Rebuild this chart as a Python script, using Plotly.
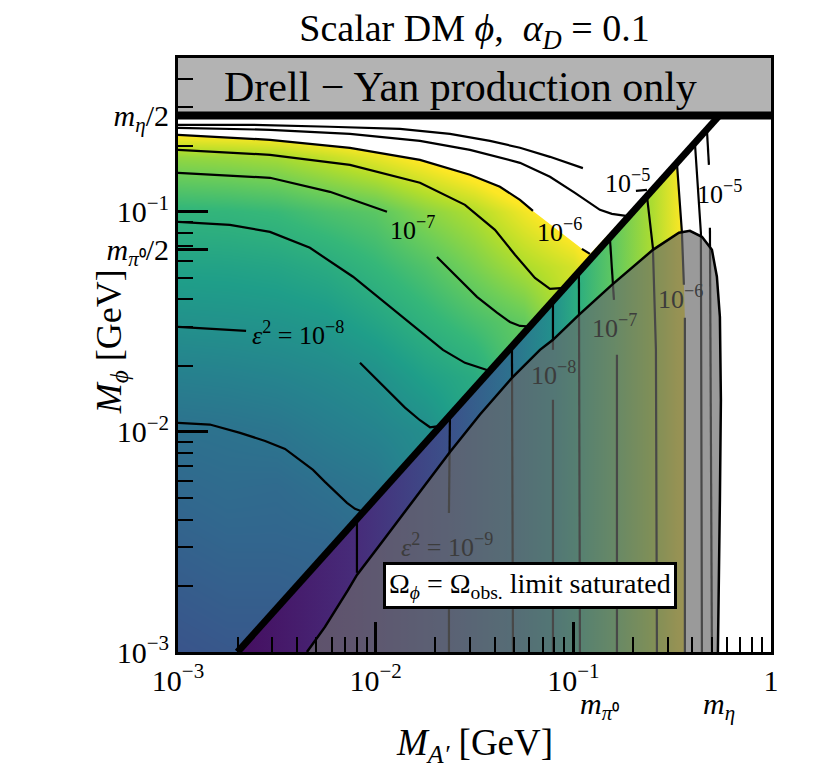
import math
import numpy as np
import plotly.graph_objects as go
from plotly.colors import sample_colorscale

FONT = "Liberation Serif"

# ---------------- physics constants (GeV) ----------------
M_ETA = 0.548
M_PI0 = 0.135
MPHI_TOP = 0.5

# ---------------- axes ----------------
x_major = [1e-3, 1e-2, 1e-1, 1.0]
x_major_text = ["10<sup>−3</sup>", "10<sup>−2</sup>", "10<sup>−1</sup>", "1"]
x_minor = [0.002, 0.003, 0.004, 0.005, 0.006, 0.007, 0.008, 0.009,
           0.02, 0.03, 0.04, 0.05, 0.06, 0.07, 0.08, 0.09,
           0.2, 0.3, 0.4, 0.5, 0.6, 0.7, 0.8, 0.9]
y_major = [1e-3, 1e-2, 1e-1, M_PI0 / 2, M_ETA / 2]
y_major_text = ["10<sup>−3</sup>", "10<sup>−2</sup>", "10<sup>−1</sup>",
                "<i>m</i><sub><i>π</i>⁰</sub>/2", "<i>m</i><sub><i>η</i></sub>/2"]
y_minor = [0.002, 0.003, 0.004, 0.005, 0.006, 0.007, 0.008, 0.009,
           0.02, 0.03, 0.04, 0.05, 0.06, 0.07, 0.08, 0.09,
           0.2, 0.3, 0.4]

# ---------------- colour field: log10(eps^2) above the M_A' = 2 M_phi line ----------------
EPS_MIN, EPS_MAX = -10.0, -6.0
grid_mA = [0.001, 0.00178, 0.00316, 0.00562, 0.01, 0.0178, 0.0316, 0.0562, 0.1, 0.178, 0.316, 0.562]
grid_mphi = [0.001, 0.00178, 0.00316, 0.00562, 0.01, 0.0178, 0.0316, 0.0562, 0.1, 0.178, 0.316]
eps2_grid = [
    [-8.95, -8.90, -8.90, -8.85, -8.65, -8.25, -7.70, -7.00, -6.30, -5.5, -5.0, -5.0],
    [-8.85, -8.80, -8.80, -8.75, -8.60, -8.20, -7.70, -7.00, -6.30, -5.5, -5.0, -5.0],
    [-8.75, -8.70, -8.70, -8.68, -8.55, -8.15, -7.70, -7.00, -6.30, -5.5, -5.0, -5.0],
    [-8.65, -8.60, -8.62, -8.52, -8.42, -8.10, -7.65, -7.00, -6.30, -5.5, -5.0, -5.0],
    [-8.52, -8.49, -8.44, -8.31, -8.20, -8.05, -7.60, -7.00, -6.30, -5.5, -5.0, -5.0],
    [-8.26, -8.235, -8.19, -8.11, -8.00, -7.74, -7.55, -7.00, -6.30, -5.5, -5.0, -5.0],
    [-7.98, -7.96, -7.93, -7.86, -7.66, -7.42, -7.19, -6.98, -6.30, -5.5, -5.0, -5.0],
    [-7.71, -7.70, -7.66, -7.55, -7.35, -7.12, -6.82, -6.50, -6.25, -5.5, -5.0, -5.0],
    [-7.40, -7.37, -7.31, -7.16, -7.04, -6.72, -6.47, -6.07, -5.71, -5.5, -5.0, -5.0],
    [-6.65, -6.61, -6.54, -6.35, -6.13, -5.90, -5.62, -5.25, -4.90, -4.8, -4.8, -4.8],
    [-5.00, -5.00, -5.00, -5.00, -5.00, -5.00, -5.00, -5.00, -5.00, -5.0, -5.0, -5.0],
]

# colour field below the threshold line (depends on M_A' only)
stripe_mA = [0.002, 0.00804, 0.0237, 0.0489, 0.0789, 0.107, 0.160, 0.250, 0.355, 1.0]
stripe_eps2 = [-9.85, -9.5, -9.0, -8.5, -8.0, -7.5, -7.0, -6.5, -6.0, -6.0]

# ---------------- eps^2 contours, M_A' < 2 M_phi ----------------
c5_mA = [0.001, 0.00231, 0.00587, 0.01327, 0.02376, 0.03786, 0.0537, 0.07616, 0.1118, None, 0.2073, 0.2357]
c5_mphi = [0.2486, 0.2486, 0.2435, 0.2384, 0.2262, 0.2102, 0.1954, 0.1778, 0.158, None, 0.1246, 0.1259]
c55_mA = [0.001, 0.00292, 0.00741, 0.01675, 0.0300, 0.0537, 0.07616, 0.1019, 0.1363, 0.1567, 0.1845]
c55_mphi = [0.2409, 0.2359, 0.2262, 0.2102, 0.1913, 0.1670, 0.1443, 0.1220, 0.1021, 0.0979, 0.0959]
c6_mA = [0.001, 0.00292, 0.00741, 0.01675, 0.0300, 0.04253, 0.0537, 0.06248, None, 0.1105, 0.1213]
c6_mphi = [0.2239, 0.2124, 0.1954, 0.1723, 0.1473, 0.1299, 0.1134, 0.1010, None, 0.0679, 0.0644]
c65_mA = [0.001, 0.00292, 0.00741, 0.01675, 0.0283, 0.04013, 0.05066, 0.06395, 0.07616, 0.08654]
c65_mphi = [0.1913, 0.1816, 0.1635, 0.1355, 0.1076, 0.0828, 0.0638, 0.0501, 0.0447, 0.0450]
c7_mA = [0.001, 0.00292, 0.00587, 0.01141, None, 0.02042, 0.02577, 0.03254, 0.04108, 0.04778, 0.0537, 0.05826]
c7_mphi = [0.1504, 0.1428, 0.1233, 0.1000, None, 0.0624, 0.0507, 0.0411, 0.0348, 0.0316, 0.0303, 0.0302]
c75_mA = [0.001, 0.00183, 0.00292, 0.00465, 0.00768, 0.01327, 0.0219, 0.0283, 0.0337, 0.03656]
c75_mphi = [0.0901, 0.0873, 0.0811, 0.0686, 0.0507, 0.0340, 0.0236, 0.0206, 0.0195, 0.0191]
c8_mA = [0.001, 0.00221, None, 0.00833, 0.00992, 0.01181, 0.01407, 0.01675, 0.01883, 0.02042]
c8_mphi = [0.0300, 0.0288, None, 0.0206, 0.0176, 0.0150, 0.0129, 0.0113, 0.0105, 0.0106]
c85_mA = [0.001, 0.00145, 0.00206, 0.00276, 0.00348, 0.00414, 0.00482, 0.00554, 0.00637, 0.00716, 0.00786, 0.00842]
c85_mphi = [0.0110, 0.0108, 0.00990, 0.00910, 0.00837, 0.00746, 0.00672, 0.00593, 0.00528, 0.00476, 0.00447, 0.00437]

# ---------------- eps^2 contours, M_A' > 2 M_phi ----------------
b95_mA = [0.00804, 0.00804]
b95_mphi = [0.00402, 0.00229]
b9_mA = [0.02376, 0.02348, None, 0.02348, 0.02348]
b9_mphi = [0.0118, 0.00428, None, 0.00257, 0.001]
b85_mA = [0.04891, 0.0495]
b85_mphi = [0.0243, 0.001]
b8_mA = [0.07886, 0.07886, None, 0.07886, 0.07886]
b8_mphi = [0.0394, 0.0236, None, 0.0140, 0.001]
b75_mA = [0.1067, 0.1080]
b75_mphi = [0.0539, 0.001]
b7_mA = [0.1531, 0.1605, None, 0.1662, 0.1662]
b7_mphi = [0.0762, 0.0398, None, 0.0224, 0.001]
b65_mA = [0.2357, 0.2527, 0.2617, 0.2648]
b65_mphi = [0.1182, 0.0686, 0.0236, 0.001]
b6_mA = [0.3342, 0.3542, 0.3625, None, 0.3667, 0.3667]
b6_mphi = [0.1670, 0.0811, 0.0466, None, 0.0330, 0.001]
b55_mA = [0.4121, 0.4419, 0.4472]
b55_mphi = [0.2059, 0.0803, 0.001]
b5_mA = [0.4740, 0.4852, None, 0.4909, 0.4966, 0.5025]
b5_mphi = [0.2359, 0.1635, None, 0.0846, 0.0140, 0.001]

# ---------------- "relic limit saturated" region ----------------
sat_mA = [0.00449, 0.00554, 0.00724, 0.00804, 0.01051, 0.01491, 0.02376, 0.0337, 0.04891, 0.06778,
          0.07886, 0.1067, 0.1567, 0.2527, 0.3421, 0.3889, 0.4472, 0.5025, 0.5324, 0.5515,
          0.5579, 0.5515, 0.5451, 0.5387]
sat_mphi = [0.001, 0.00130, 0.00191, 0.00224, 0.00307, 0.00466, 0.00811, 0.0120, 0.0176, 0.0236,
            0.0262, 0.0340, 0.0466, 0.0672, 0.0803, 0.0820, 0.0770, 0.0672, 0.0507, 0.0333,
            0.0140, 0.00491, 0.00172, 0.001]

# threshold M_A' = 2 M_phi and eta line
thr_mA = [0.002, M_ETA]
thr_mphi = [0.001, M_ETA / 2]
eta_mA = [0.001, 1.0]
eta_mphi = [M_ETA / 2, M_ETA / 2]
dy_mA = [0.001, 1.0, 1.0, 0.001]
dy_mphi = [M_ETA / 2, M_ETA / 2, MPHI_TOP, MPHI_TOP]

# ---------------- labels ----------------
labels_top = [("10<sup>−5</sup>", 0.189, 0.137), ("10<sup>−6</sup>", 0.0855, 0.082),
              ("10<sup>−7</sup>", 0.0153, 0.0837),
              ("<i>ε</i><sup>2</sup> = 10<sup>−8</sup>", 0.00405, 0.0279),
              ("10<sup>−5</sup>", 0.552, 0.123)]
labels_grey = [("10<sup>−6</sup>", 0.350, 0.0407), ("10<sup>−7</sup>", 0.162, 0.030),
               ("10<sup>−8</sup>", 0.0798, 0.0185),
               ("<i>ε</i><sup>2</sup> = 10<sup>−9</sup>", 0.0230, 0.00306)]


def clean(xs, ys):
    pts = [(a, b) for a, b in zip(xs, ys) if a is not None]
    return [p[0] for p in pts], [p[1] for p in pts]


fig = go.Figure()

# heatmap (edges = geometric midpoints between grid nodes)
lx = np.log10(grid_mA)
ly = np.log10(grid_mphi)
dlx = lx[1] - lx[0]
dly = ly[1] - ly[0]
x_edges = 10 ** np.concatenate([lx - dlx / 2, [lx[-1] + dlx / 2]])
y_edges = 10 ** np.concatenate([ly - dly / 2, [ly[-1] + dly / 2]])
fig.add_trace(go.Heatmap(x=x_edges, y=y_edges, z=eps2_grid, zsmooth="best",
                         colorscale="Viridis", zmin=EPS_MIN, zmax=EPS_MAX,
                         showscale=False, hoverinfo="skip"))

# below-threshold colour (horizontal gradient)
g0 = math.log10(stripe_mA[0])
g1 = math.log10(stripe_mA[-1])
tvals = [min(1.0, (z - EPS_MIN) / (EPS_MAX - EPS_MIN)) for z in stripe_eps2]
cols = sample_colorscale("Viridis", tvals)
grad_cs = [[(math.log10(m) - g0) / (g1 - g0), c] for m, c in zip(stripe_mA, cols)]
grad_cs[0][0] = 0.0
grad_cs[-1][0] = 1.0
fig.add_trace(go.Scatter(x=[thr_mA[0], thr_mA[1], 1.0, 1.0], y=[thr_mphi[0], thr_mphi[1], thr_mphi[1], 0.001],
                         mode="lines", line=dict(width=0, color="rgba(0,0,0,0)"), fill="toself",
                         fillgradient=dict(type="horizontal", colorscale=grad_cs),
                         hoverinfo="skip", showlegend=False))

# white masks (eps^2 above colour range)
mx, my = clean(c6_mA, c6_mphi)
mx += [thr_mA[1], 0.001]
my += [thr_mphi[1], thr_mphi[1]]
fig.add_trace(go.Scatter(x=mx, y=my, mode="lines", line=dict(width=0, color="white"), fill="toself",
                         fillcolor="white", hoverinfo="skip", showlegend=False))
mx, my = clean(b6_mA, b6_mphi)
mx += [1.0, 1.0, thr_mA[1]]
my += [0.001, thr_mphi[1], thr_mphi[1]]
fig.add_trace(go.Scatter(x=mx, y=my, mode="lines", line=dict(width=0, color="white"), fill="toself",
                         fillcolor="white", hoverinfo="skip", showlegend=False))

# contour lines
for xs, ys in [(c5_mA, c5_mphi), (c55_mA, c55_mphi), (c6_mA, c6_mphi), (c65_mA, c65_mphi),
               (c7_mA, c7_mphi), (c75_mA, c75_mphi), (c8_mA, c8_mphi), (c85_mA, c85_mphi),
               (b95_mA, b95_mphi), (b9_mA, b9_mphi), (b85_mA, b85_mphi), (b8_mA, b8_mphi),
               (b75_mA, b75_mphi), (b7_mA, b7_mphi), (b65_mA, b65_mphi), (b6_mA, b6_mphi),
               (b55_mA, b55_mphi), (b5_mA, b5_mphi)]:
    fig.add_trace(go.Scatter(x=xs, y=ys, mode="lines", line=dict(color="black", width=2.2),
                             hoverinfo="skip", showlegend=False))

# saturated region overlay
fig.add_trace(go.Scatter(x=sat_mA, y=sat_mphi, mode="lines", fill="toself",
                         fillcolor="rgba(106,106,106,0.68)", line=dict(color="black", width=2.5),
                         hoverinfo="skip", showlegend=False))

# threshold line
fig.add_trace(go.Scatter(x=thr_mA, y=thr_mphi, mode="lines", line=dict(color="black", width=7),
                         hoverinfo="skip", showlegend=False))

# Drell-Yan band and eta/2 line
fig.add_trace(go.Scatter(x=dy_mA, y=dy_mphi, mode="lines", fill="toself", fillcolor="#b3b3b3",
                         line=dict(width=0, color="#b3b3b3"), hoverinfo="skip", showlegend=False))
fig.add_trace(go.Scatter(x=eta_mA, y=eta_mphi, mode="lines", line=dict(color="black", width=8),
                         hoverinfo="skip", showlegend=False))

C = dict(xanchor="center", yanchor="middle", showarrow=False)
ann = []
for t, x, y in labels_top:
    ann.append(dict(x=math.log10(x), y=math.log10(y), xref="x", yref="y", text=t,
                    font=dict(family=FONT, size=26, color="black"), **C))
for t, x, y in labels_grey:
    ann.append(dict(x=math.log10(x), y=math.log10(y), xref="x", yref="y", text=t,
                    font=dict(family=FONT, size=26, color="#3c3c3c"), **C))
ann.append(dict(x=math.log10(0.0603), y=math.log10(0.002005), xref="x", yref="y",
                text="Ω<sub><i>ϕ</i></sub> = Ω<sub>obs.</sub> limit saturated",
                bgcolor="white", bordercolor="black", borderwidth=3, borderpad=3,
                font=dict(family=FONT, size=28, color="black"), **C))
ann.append(dict(x=0.477, xref="paper", y=math.log10(math.sqrt(M_ETA / 2 * MPHI_TOP)), yref="y",
                text="Drell − Yan production only",
                font=dict(family=FONT, size=42, color="black"), **C))
ann.append(dict(x=math.log10(M_PI0), xref="x", y=-0.091, yref="paper",
                text="<i>m</i><sub><i>π</i>⁰</sub>",
                font=dict(family=FONT, size=30, color="black"), **C))
ann.append(dict(x=math.log10(M_ETA), xref="x", y=-0.091, yref="paper",
                text="<i>m</i><sub><i>η</i></sub>",
                font=dict(family=FONT, size=30, color="black"), **C))
ann.append(dict(x=0.5, xref="paper", y=-0.1566, yref="paper",
                text="<i>M</i><sub><i>A′</i></sub> [GeV]",
                font=dict(family=FONT, size=37, color="black"), **C))
ann.append(dict(x=-0.113, xref="paper", y=0.523, yref="paper", textangle=-90,
                text="<i>M</i><sub><i>ϕ</i></sub> [GeV]",
                font=dict(family=FONT, size=36, color="black"), **C))

axis_common = dict(type="log", showline=True, linewidth=3, linecolor="black", mirror=True,
                   ticks="inside", ticklen=30, tickwidth=2.5, tickcolor="black",
                   showgrid=False, zeroline=False,
                   tickfont=dict(family=FONT, size=30, color="black"))

W, H = 822, 763   # page body margin of 8px shifts the figure
fig.update_layout(
    width=W, height=H,
    margin=dict(l=170, r=59, t=50, b=119),
    paper_bgcolor="white", plot_bgcolor="white",
    showlegend=False,
    title=dict(text="Scalar DM <i>ϕ</i>,\u2002<i>α</i><sub><i>D</i></sub> = 0.1",
               x=0.5, xref="paper", y=1 - 20 / H, yref="container",
               xanchor="center", yanchor="middle",
               font=dict(family=FONT, size=38, color="black")),
    xaxis=dict(range=[-3, 0], tickmode="array", tickvals=x_major, ticktext=x_major_text,
               minor=dict(tickmode="array", tickvals=x_minor, ticks="inside", ticklen=15,
                          tickwidth=2, tickcolor="black"),
               **axis_common),
    yaxis=dict(range=[-3, math.log10(MPHI_TOP)], tickmode="array", tickvals=y_major, ticktext=y_major_text,
               minor=dict(tickmode="array", tickvals=y_minor, ticks="inside", ticklen=15,
                          tickwidth=2, tickcolor="black"),
               **axis_common),
    annotations=ann,
)

fig.write_html("out.html")
